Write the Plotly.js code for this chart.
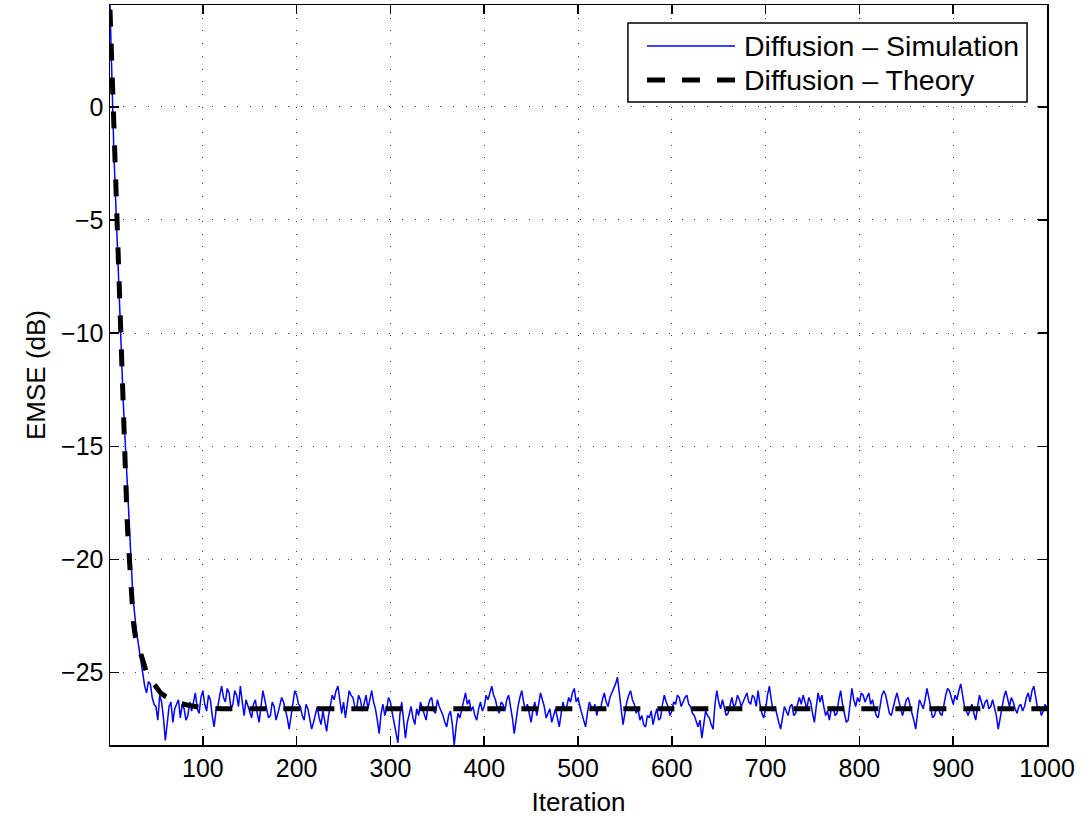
<!DOCTYPE html>
<html>
<head>
<meta charset="utf-8">
<script src="https://cdn.plot.ly/plotly-3.0.1.min.js"></script>
<style>html,body{margin:0;padding:0;background:#fff;}#chart{width:1087px;height:825px;}</style>
</head>
<body>
<div id="chart"></div>
<script>
// Simulation: transient, one value per iteration (iterations 1..35)
const simTransient = [4.5, 2.6, 1.0, -0.5, -1.8, -3.0, -4.2, -5.3, -6.4, -7.6,
  -8.8, -9.9, -10.9, -11.9, -12.9, -13.8, -14.7, -15.6, -16.5, -17.4,
  -18.3, -19.1, -19.9, -20.6, -21.3, -21.9, -22.4, -22.8, -23.1, -23.4,
  -23.7, -24.0, -24.3, -24.6, -24.9];
// Simulation: steady state, every 2nd iteration from 36 to 1000
const simSteadyStart = 36;
const simSteadyStep = 2;
const simSteady = [
  -25.1, -25.6, -25.9, -25.4, -25.5, -26.1, -26.4, -26.5, -27.1, -26.0, -26.3, -27.0, -28.0, -27.1, -26.5, -26.3, -27.2, -26.6, -26.4, -26.2,
  -27.0, -26.4, -26.6, -27.1, -26.9, -26.3, -26.7, -26.2, -25.9, -26.6, -26.8, -26.1, -25.8, -26.4, -26.7, -26.0, -26.2, -26.9, -27.4, -26.7,
  -26.5, -26.0, -25.6, -26.1, -26.3, -25.7, -25.9, -26.6, -26.4, -25.8, -26.0, -26.5, -25.6, -26.3, -26.9, -26.2, -26.5, -26.8, -27.0, -26.4,
  -26.2, -26.8, -27.2, -26.5, -25.8, -26.2, -26.6, -27.0, -26.9, -26.3, -26.5, -27.1, -26.8, -26.4, -26.1, -26.3, -26.6, -27.0, -27.5, -26.9,
  -26.3, -25.8, -26.0, -26.4, -26.5, -26.9, -27.1, -26.4, -26.6, -27.0, -27.5, -27.2, -26.8, -26.5, -27.0, -27.3, -26.7, -27.1, -27.6, -26.9,
  -26.4, -26.0, -26.2, -25.8, -25.6, -26.3, -26.8, -26.3, -27.0, -26.4, -25.8, -26.0, -26.1, -26.5, -26.6, -26.0, -26.2, -26.7, -26.4, -26.0,
  -26.6, -26.2, -25.8, -26.3, -26.6, -27.1, -27.7, -26.8, -26.4, -26.9, -26.6, -26.1, -26.3, -26.8, -27.3, -27.6, -28.1, -26.9, -26.3, -27.1,
  -27.9, -27.2, -26.8, -26.5, -27.0, -27.3, -26.6, -26.9, -26.3, -26.6, -26.8, -27.1, -26.5, -26.2, -26.1, -26.7, -26.8, -26.2, -26.5, -26.7,
  -26.9, -27.2, -27.4, -26.9, -26.7, -27.3, -28.2, -27.4, -26.8, -27.0, -26.6, -26.2, -25.9, -26.4, -26.2, -26.7, -26.5, -26.9, -27.1, -26.6,
  -26.3, -26.7, -26.5, -26.0, -26.2, -25.9, -25.6, -26.0, -26.2, -26.6, -26.8, -26.3, -26.4, -26.7, -26.2, -26.0, -26.5, -27.0, -27.7, -27.0,
  -26.5, -26.1, -25.8, -26.3, -26.7, -26.4, -26.9, -27.2, -26.6, -26.3, -26.9, -26.4, -25.9, -26.2, -26.5, -27.0, -26.8, -26.6, -27.2, -26.9,
  -26.6, -27.0, -27.4, -26.8, -26.3, -26.7, -26.5, -26.1, -26.3, -25.9, -25.7, -26.3, -26.1, -26.5, -26.8, -27.1, -27.4, -26.8, -26.3, -26.5,
  -26.6, -26.4, -26.9, -26.5, -26.6, -26.2, -25.9, -26.3, -26.5, -26.1, -25.9, -25.7, -25.5, -25.2, -25.8, -26.6, -27.3, -26.7, -26.3, -26.0,
  -25.8, -26.2, -26.4, -26.8, -26.6, -27.1, -26.9, -27.3, -27.4, -26.9, -27.0, -26.7, -27.3, -26.9, -26.6, -27.1, -27.0, -26.4, -26.0, -26.3,
  -26.5, -26.9, -26.7, -26.3, -26.4, -26.0, -26.1, -26.5, -26.3, -26.1, -26.0, -26.4, -26.5, -26.8, -26.9, -27.2, -27.4, -27.1, -27.9, -27.3,
  -26.7, -26.9, -27.0, -27.3, -27.5, -26.4, -25.8, -26.3, -26.6, -26.2, -26.5, -26.9, -26.8, -26.4, -26.1, -26.5, -26.4, -26.0, -26.2, -26.5,
  -26.3, -26.1, -25.9, -26.3, -26.4, -26.0, -26.1, -26.5, -25.8, -26.4, -26.8, -27.0, -26.6, -26.0, -25.6, -26.2, -26.7, -26.5, -26.9, -27.2,
  -27.5, -26.9, -26.5, -26.7, -26.9, -26.5, -26.4, -26.9, -26.8, -26.4, -26.1, -26.4, -26.0, -26.3, -26.6, -26.1, -26.3, -26.8, -27.2, -26.5,
  -25.9, -26.3, -26.0, -26.5, -26.9, -26.7, -27.1, -26.6, -26.5, -26.9, -26.8, -26.2, -25.8, -26.4, -26.9, -27.2, -27.1, -26.4, -25.7, -26.2,
  -26.5, -26.1, -26.3, -25.9, -26.0, -26.3, -26.1, -25.9, -26.4, -26.2, -26.6, -26.9, -27.0, -26.5, -26.0, -25.8, -26.0, -26.4, -26.8, -26.9,
  -26.5, -26.2, -25.9, -26.3, -26.6, -26.9, -26.5, -26.2, -26.1, -26.5, -26.8, -27.1, -27.5, -26.8, -26.2, -26.4, -26.6, -26.2, -25.7, -26.1,
  -26.6, -27.0, -26.9, -26.6, -26.5, -26.8, -26.9, -26.4, -26.0, -25.7, -25.8, -26.1, -26.4, -26.0, -26.2, -25.8, -25.5, -26.0, -26.5, -26.7,
  -26.9, -26.6, -26.4, -26.8, -27.1, -26.5, -26.0, -26.3, -26.6, -26.3, -26.2, -26.6, -26.5, -26.2, -26.5, -26.9, -27.5, -27.0, -26.6, -26.1,
  -25.8, -26.2, -26.5, -26.1, -26.3, -26.6, -26.8, -26.5, -26.4, -26.7, -26.5, -26.1, -25.9, -26.3, -25.8, -25.6, -26.2, -26.6, -26.5, -26.9,
  -26.7, -26.4, -26.6];

// Theory curve (iteration, dB)
const theoryIter = [1, 2, 3, 4, 5, 6, 7, 8, 9, 10, 11, 12, 13, 14, 15, 16, 17, 18, 19, 20,
  21, 22, 24, 26, 28, 31, 35, 40, 45, 50, 55, 60, 67, 75, 85, 100, 120, 1000];
const theoryDb = [4.3, 3.0, 1.6, 0.2, -1.2, -2.6, -4.0, -5.3, -6.6, -7.9, -9.2, -10.4, -11.6, -12.8,
  -13.9, -15.0, -16.0, -17.0, -18.0, -18.9, -19.7, -20.5, -21.8, -22.8, -23.4, -23.8, -24.5,
  -25.0, -25.35, -25.65, -25.9, -26.05, -26.2, -26.35, -26.45, -26.55, -26.6, -26.6];

const xTickVals = [100, 200, 300, 400, 500, 600, 700, 800, 900, 1000];
const yTickVals = [-25, -20, -15, -10, -5, 0];
const seriesNames = ['Diffusion \u2013 Simulation', 'Diffusion \u2013 Theory'];
const xLabel = 'Iteration';
const yLabel = 'EMSE (dB)';

const simX = [], simY = [];
simTransient.forEach((v, i) => { simX.push(i + 1); simY.push(v); });
simSteady.forEach((v, i) => { simX.push(simSteadyStart + i * simSteadyStep); simY.push(v); });

const font = 'Liberation Sans, Arial, Helvetica, sans-serif';
const gridDash = '1px,11.7px';
const simStyle = { color: '#0000ff', width: 1.5 };
const theoryStyle = { color: '#000000', width: 5, dash: '17px,17px' };

const traces = [
  { x: simX, y: simY, type: 'scatter', mode: 'lines', name: seriesNames[0], line: simStyle },
  { x: theoryIter, y: theoryDb, type: 'scatter', mode: 'lines', name: seriesNames[1], line: theoryStyle }
];

const axisCommon = {
  showline: true, linecolor: '#000', linewidth: 1.5, mirror: 'allticks',
  ticks: 'inside', ticklen: 9, tickwidth: 1.5, tickcolor: '#000',
  showgrid: true, gridcolor: '#444', gridwidth: 1, griddash: gridDash,
  zeroline: false, tickfont: { family: font, size: 25, color: '#000' }
};

// Legend box, drawn MATLAB-style (paper coordinates of the plot area)
const lgX0 = 0.5528, lgX1 = 0.9787, lgY0 = 0.8689, lgY1 = 0.9757;
const lgRows = [0.9446, 0.8986];
const lgLineX0 = 0.5731, lgLineX1 = 0.6670, lgTextX = 0.6745;

const shapes = [
  { type: 'rect', xref: 'paper', yref: 'paper', x0: lgX0, x1: lgX1, y0: lgY0, y1: lgY1,
    fillcolor: '#fff', line: { color: '#000', width: 1.5 }, layer: 'above' },
  { type: 'line', xref: 'paper', yref: 'paper', x0: lgLineX0, x1: lgLineX1, y0: lgRows[0], y1: lgRows[0],
    line: { color: simStyle.color, width: simStyle.width }, layer: 'above' },
  { type: 'line', xref: 'paper', yref: 'paper', x0: lgLineX0, x1: lgLineX1, y0: lgRows[1], y1: lgRows[1],
    line: { color: theoryStyle.color, width: theoryStyle.width, dash: '18px,17px' }, layer: 'above' }
];
const annotations = seriesNames.map((n, i) => ({
  xref: 'paper', yref: 'paper', x: lgTextX, y: lgRows[i], xanchor: 'left', yanchor: 'middle',
  text: n, showarrow: false, font: { family: font, size: 28.5, color: '#000' }
}));

const layout = {
  width: 1087, height: 825,
  margin: { l: 110, r: 40, t: 5, b: 80 },
  paper_bgcolor: '#fff', plot_bgcolor: '#fff',
  showlegend: false,
  xaxis: Object.assign({}, axisCommon, {
    range: [1, 1000], tickvals: xTickVals,
    title: { text: xLabel, font: { family: font, size: 26, color: '#000' }, standoff: 12 }
  }),
  yaxis: Object.assign({}, axisCommon, {
    range: [-28.2, 4.5], tickvals: yTickVals,
    title: { text: yLabel, font: { family: font, size: 26, color: '#000' }, standoff: 8 }
  }),
  shapes: shapes,
  annotations: annotations
};

Plotly.newPlot('chart', traces, layout, { displayModeBar: false, staticPlot: true });
</script>
</body>
</html>
